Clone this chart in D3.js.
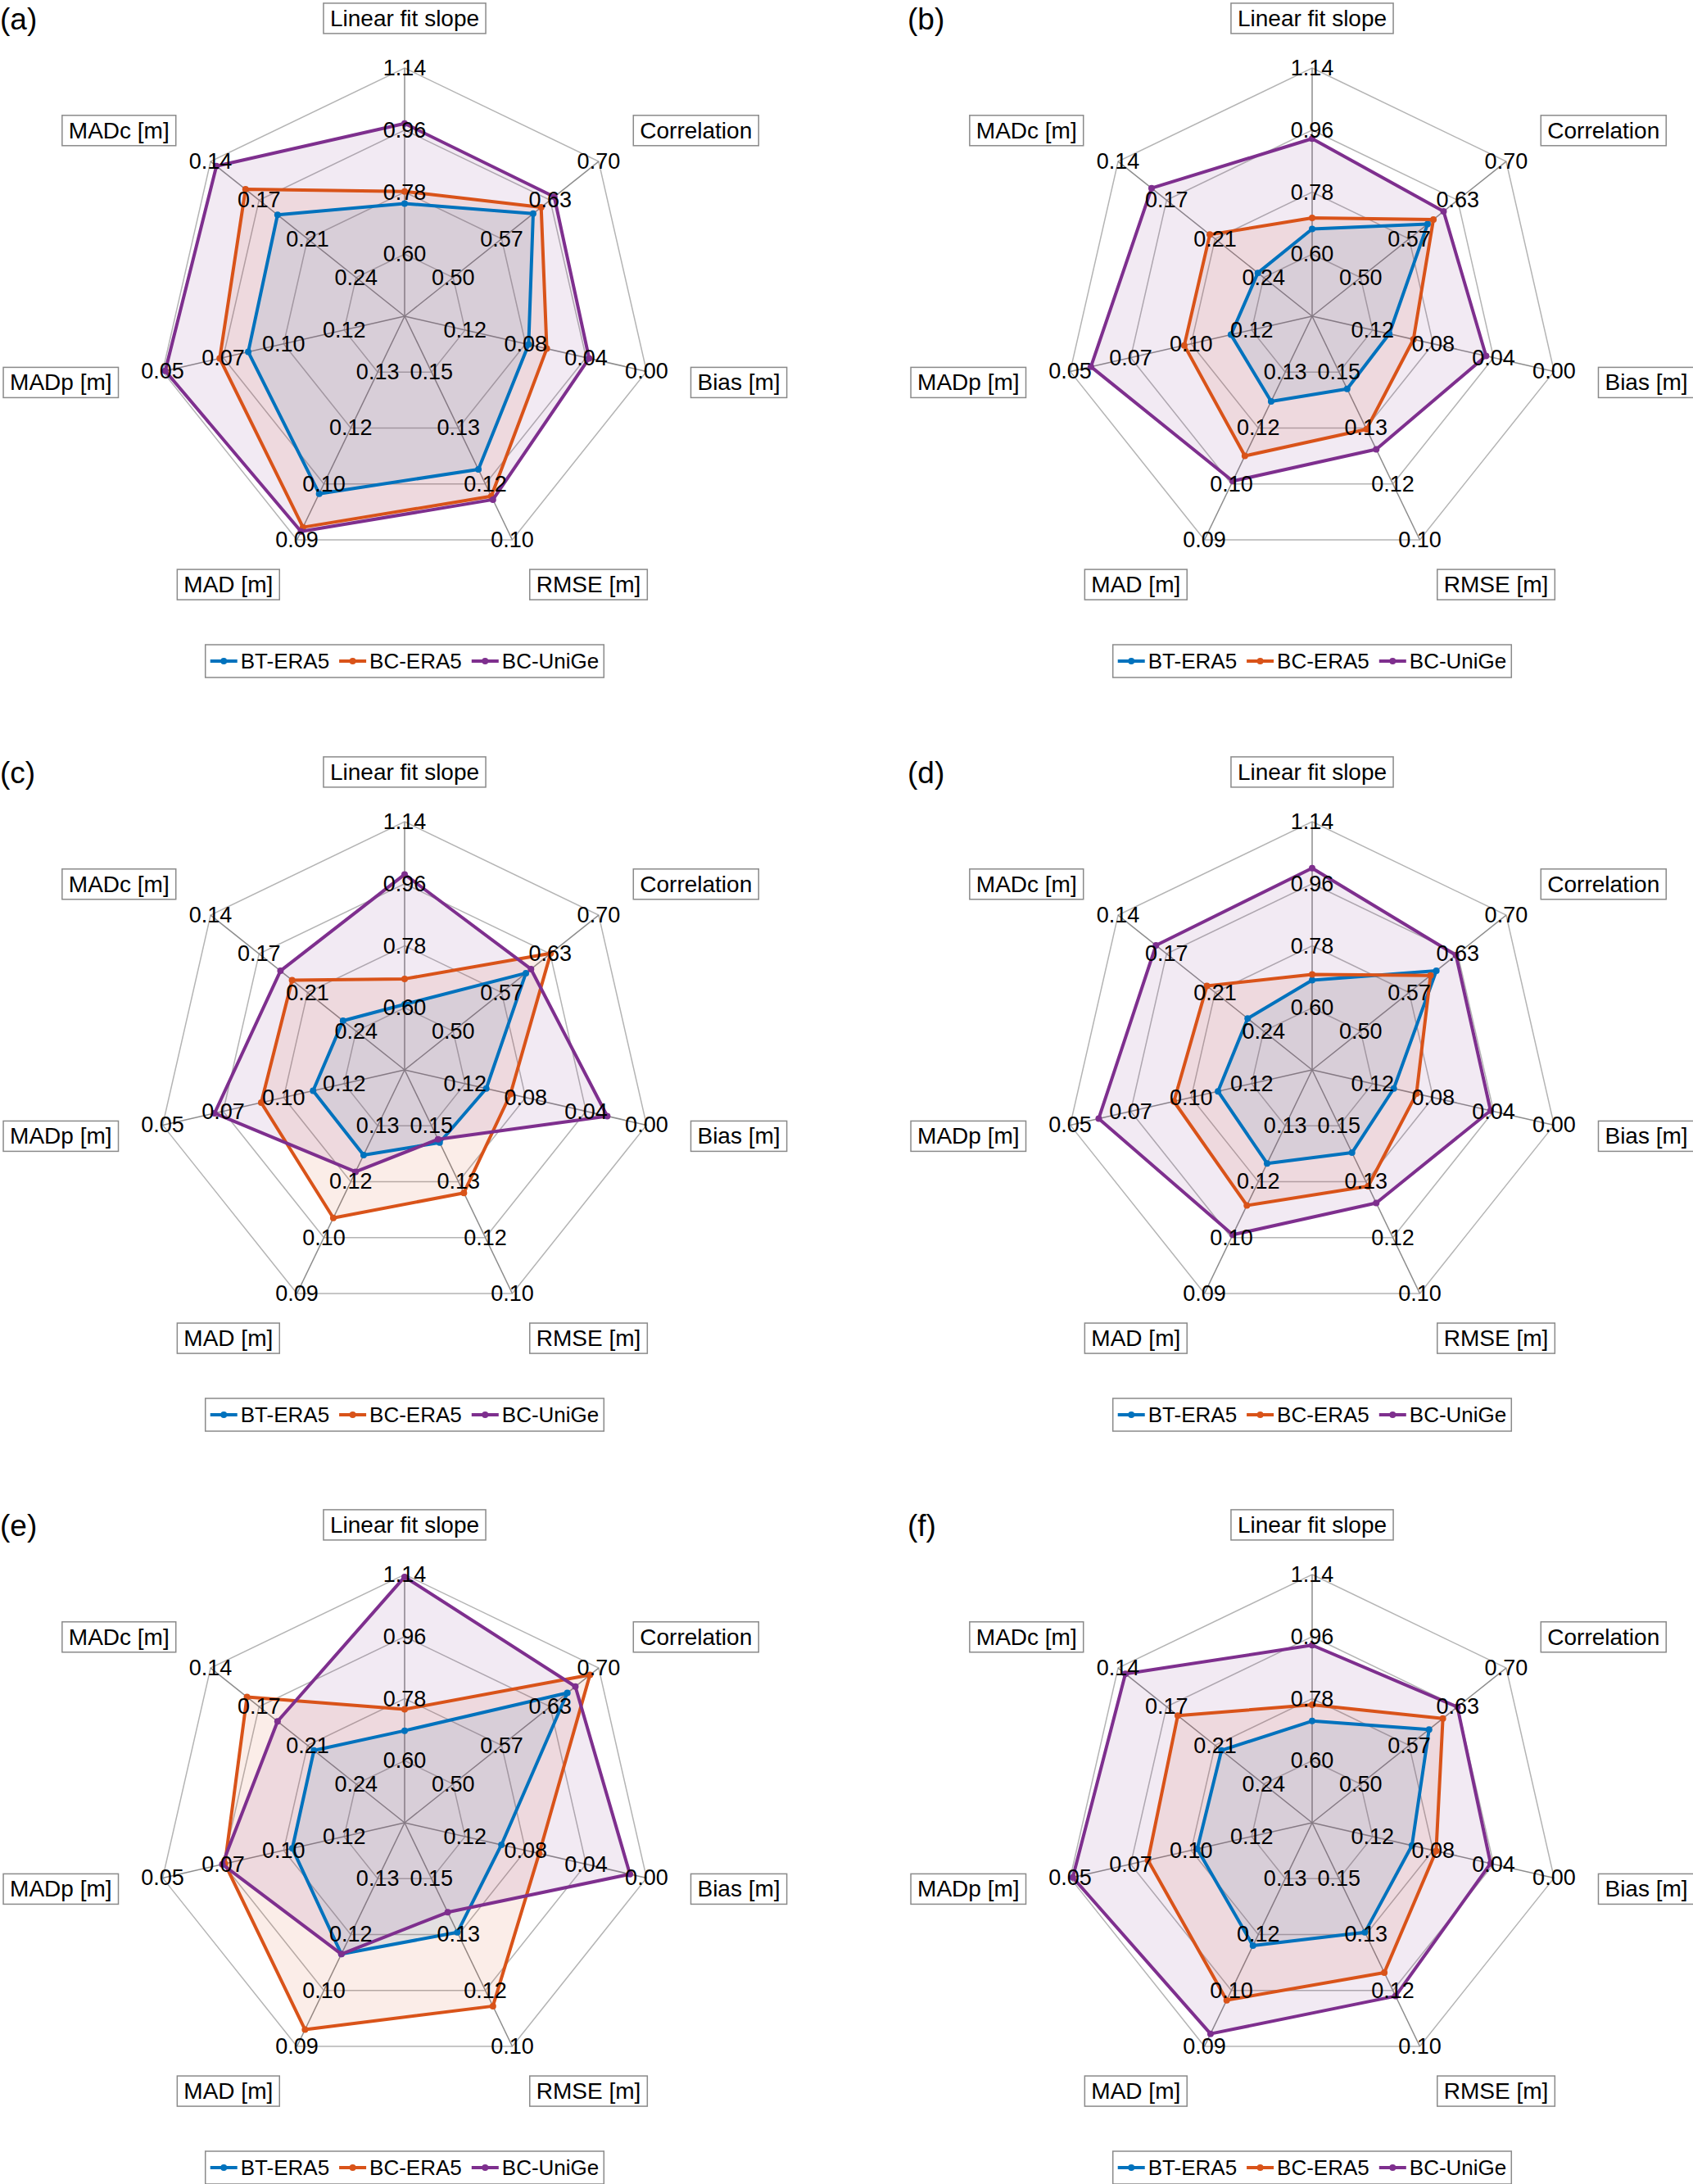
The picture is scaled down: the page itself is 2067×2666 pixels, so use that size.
<!DOCTYPE html>
<html lang="en">
<head>
<meta charset="UTF-8" />
<title>Spider plots</title>
<style>
  body { margin: 0; background: #fff; }
  svg { font-family: "Liberation Sans", Arial, sans-serif; }
  .grid-ring { fill: none; stroke: #b4b4b4; stroke-width: 1.5px; }
  .grid-spoke { stroke: #8c8c8c; stroke-width: 1.5px; }
  .tick-label { font-size: 27px; fill: #000; }
  .axis-label { font-size: 28px; fill: #000; }
  .label-box { fill: #fff; stroke: #8a8a8a; stroke-width: 1.5px; }
  .panel-label { font-size: 37px; fill: #000; }
  .legend-text { font-size: 26px; fill: #000; }
</style>
</head>
<body>
<script src="https://cdn.jsdelivr.net/npm/d3@7"></script>
<script>
// axes, clockwise from the top
var axisNames = ["Linear fit slope", "Correlation", "Bias [m]", "RMSE [m]", "MAD [m]", "MADp [m]", "MADc [m]"];
var axisTicks = [
  ["0.60", "0.78", "0.96", "1.14"],
  ["0.50", "0.57", "0.63", "0.70"],
  ["0.12", "0.08", "0.04", "0.00"],
  ["0.15", "0.13", "0.12", "0.10"],
  ["0.13", "0.12", "0.10", "0.09"],
  ["0.12", "0.10", "0.07", "0.05"],
  ["0.24", "0.21", "0.17", "0.14"]
];
// value at the centre and at the outer ring
var axisMin = [0.42, 0.4333, 0.16, 0.1667, 0.1433, 0.1433, 0.2733];
var axisMax = [1.14, 0.70, 0.00, 0.10, 0.09, 0.05, 0.14];

var panelLabels = ["(a)", "(b)", "(c)", "(d)", "(e)", "(f)"];
var seriesNames = ["BT-ERA5", "BC-ERA5", "BC-UniGe"];
var seriesColors = ["#0072BD", "#D95319", "#7E2F8E"];

// one row per panel: slope, corr, bias, rmse, mad, madp, madc
var btEra5 = [
  [0.747, 0.610, 0.078, 0.121, 0.101, 0.083, 0.186],
  [0.673, 0.592, 0.109, 0.145, 0.123, 0.112, 0.236],
  [0.610, 0.600, 0.106, 0.145, 0.123, 0.108, 0.231],
  [0.680, 0.604, 0.106, 0.142, 0.121, 0.107, 0.229],
  [0.687, 0.657, 0.096, 0.134, 0.112, 0.100, 0.211],
  [0.715, 0.594, 0.094, 0.134, 0.114, 0.099, 0.211]
];
var bcEra5 = [
  [0.782, 0.621, 0.066, 0.113, 0.093, 0.072, 0.164],
  [0.705, 0.600, 0.093, 0.133, 0.110, 0.094, 0.203],
  [0.684, 0.634, 0.090, 0.130, 0.108, 0.088, 0.196],
  [0.697, 0.596, 0.091, 0.132, 0.111, 0.090, 0.201],
  [0.749, 0.688, 0.071, 0.112, 0.094, 0.074, 0.165],
  [0.762, 0.613, 0.078, 0.122, 0.101, 0.080, 0.181]
];
var bcUniGe = [
  [0.979, 0.639, 0.038, 0.112, 0.092, 0.051, 0.144],
  [0.935, 0.614, 0.045, 0.127, 0.104, 0.058, 0.163],
  [0.987, 0.607, 0.026, 0.146, 0.119, 0.070, 0.188],
  [1.005, 0.631, 0.042, 0.127, 0.104, 0.061, 0.166],
  [1.133, 0.668, 0.011, 0.140, 0.112, 0.073, 0.186],
  [0.935, 0.633, 0.042, 0.115, 0.093, 0.051, 0.145]
];
var allSeries = [btEra5, bcEra5, bcUniGe];

var w = 2067;
var h = 2666;
var R = 303;
var colX = [494, 1602];
var rowY = [386, 1306, 2225];

var svg = d3.select("body").append("svg")
  .attr("width", w)
  .attr("height", h);

svg.append("rect").attr("width", w).attr("height", h).attr("fill", "#fff");

var n = axisNames.length;
var angle = function(i) { return i * 2 * Math.PI / n; };

var scales = axisNames.map(function(d, i) {
  return d3.scaleLinear().domain([axisMin[i], axisMax[i]]).range([0, R]);
});
var ringScale = d3.scaleLinear().domain([0, 4]).range([0, R]);

function pt(i, r) {
  return [r * Math.sin(angle(i)), -r * Math.cos(angle(i))];
}

var polyLine = d3.line().curve(d3.curveLinearClosed);

panelLabels.forEach(function(lab, p) {
  var cx = colX[p % 2];
  var cy = rowY[Math.floor(p / 2)];
  var g = svg.append("g").attr("transform", "translate(" + cx + "," + cy + ")");

  svg.append("text")
    .attr("class", "panel-label")
    .attr("x", cx - 494)
    .attr("y", cy - 386 + 36)
    .text(lab);

  // rings
  [1, 2, 3, 4].forEach(function(k) {
    g.append("path")
      .attr("class", "grid-ring")
      .attr("d", polyLine(d3.range(n).map(function(i) { return pt(i, ringScale(k)); })));
  });
  // spokes
  d3.range(n).forEach(function(i) {
    var e = pt(i, R);
    g.append("line").attr("class", "grid-spoke")
      .attr("x1", 0).attr("y1", 0).attr("x2", e[0]).attr("y2", e[1]);
  });

  // series
  allSeries.forEach(function(s, si) {
    var pts = s[p].map(function(v, i) { return pt(i, scales[i](v)); });
    g.append("path")
      .attr("d", polyLine(pts))
      .attr("fill", seriesColors[si])
      .attr("fill-opacity", 0.1)
      .attr("stroke", "none");
  });
  allSeries.forEach(function(s, si) {
    var pts = s[p].map(function(v, i) { return pt(i, scales[i](v)); });
    g.append("path")
      .attr("d", polyLine(pts))
      .attr("fill", "none")
      .attr("stroke", seriesColors[si])
      .attr("stroke-width", 4)
      .attr("stroke-linejoin", "round");
    g.selectAll(null).data(pts).enter().append("circle")
      .attr("cx", function(d) { return d[0]; })
      .attr("cy", function(d) { return d[1]; })
      .attr("r", 4)
      .attr("fill", seriesColors[si]);
  });

  // tick labels
  d3.range(n).forEach(function(i) {
    axisTicks[i].forEach(function(t, k) {
      var q = pt(i, ringScale(k + 1));
      g.append("text")
        .attr("class", "tick-label")
        .attr("x", q[0])
        .attr("y", q[1])
        .attr("text-anchor", "middle")
        .attr("dominant-baseline", "central")
        .text(t);
    });
  });

  // axis labels in boxes
  d3.range(n).forEach(function(i) {
    var q = pt(i, R * 1.2);
    var anchor = i === 0 ? "middle" : (i <= 3 ? "start" : "end");
    var dx = i === 0 ? 0 : (i <= 3 ? 3 : -3);
    var lg = g.append("g");
    var box = lg.append("rect").attr("class", "label-box");
    var tx = lg.append("text")
      .attr("class", "axis-label")
      .attr("x", q[0] + dx)
      .attr("y", q[1])
      .attr("text-anchor", anchor)
      .attr("dominant-baseline", "central")
      .text(axisNames[i]);
    var bb = tx.node().getBBox();
    box.attr("x", bb.x - 8).attr("y", bb.y - 3)
      .attr("width", bb.width + 16).attr("height", bb.height + 6);
  });

  // legend
  var leg = svg.append("g").attr("transform", "translate(" + cx + "," + (cy + 421) + ")");
  var legBox = leg.append("rect").attr("class", "label-box");
  var xpos = 0;
  var items = leg.append("g");
  seriesNames.forEach(function(name, si) {
    var it = items.append("g").attr("transform", "translate(" + xpos + ",0)");
    it.append("line")
      .attr("x1", 0).attr("x2", 33).attr("y1", 0).attr("y2", 0)
      .attr("stroke", seriesColors[si]).attr("stroke-width", 4);
    it.append("circle").attr("cx", 16.5).attr("cy", 0).attr("r", 4).attr("fill", seriesColors[si]);
    var t = it.append("text")
      .attr("class", "legend-text")
      .attr("x", 37)
      .attr("y", 0)
      .attr("dominant-baseline", "central")
      .text(name);
    xpos += 37 + t.node().getComputedTextLength() + 12;
  });
  var total = xpos - 12;
  items.attr("transform", "translate(" + (-total / 2) + ",0)");
  legBox.attr("x", -total / 2 - 6).attr("y", -20)
    .attr("width", total + 12).attr("height", 40);
});
</script>
</body>
</html>
